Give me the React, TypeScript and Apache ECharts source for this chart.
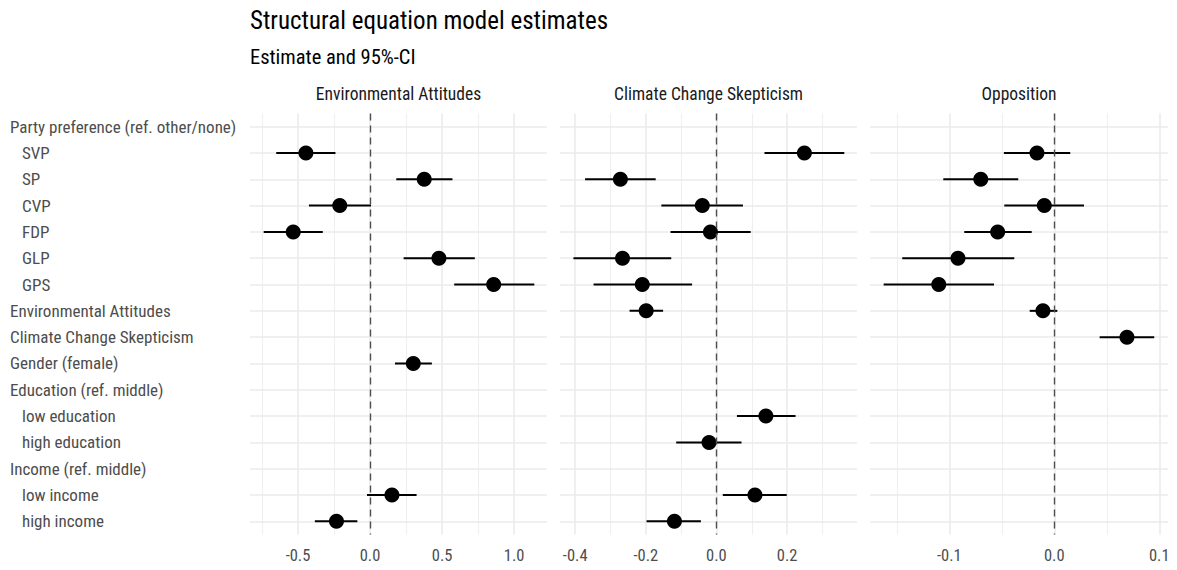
import React, { useEffect, useRef } from "react";
import * as echarts from "echarts";

const categories = [
  "Party preference (ref. other/none)",
  "SVP",
  "SP",
  "CVP",
  "FDP",
  "GLP",
  "GPS",
  "Environmental Attitudes",
  "Climate Change Skepticism",
  "Gender (female)",
  "Education (ref. middle)",
  "low education",
  "high education",
  "Income (ref. middle)",
  "low income",
  "high income",
];
const indentedRows = [1, 2, 3, 4, 5, 6, 11, 12, 14, 15];

const panelTitles = ["Environmental Attitudes", "Climate Change Skepticism", "Opposition"];

// Environmental Attitudes
const envEst = [null, -0.445, 0.376, -0.21, -0.533, 0.478, 0.858, null, null, 0.3, null, null, null, null, 0.152, -0.233];
const envLo = [null, -0.651, 0.182, -0.424, -0.738, 0.233, 0.584, null, null, 0.173, null, null, null, null, -0.021, -0.383];
const envHi = [null, -0.24, 0.572, 0.007, -0.328, 0.727, 1.14, null, null, 0.429, null, null, null, null, 0.323, -0.088];

// Climate Change Skepticism
const ccsEst = [null, 0.249, -0.272, -0.04, -0.017, -0.266, -0.21, -0.199, null, null, null, 0.14, -0.021, null, 0.109, -0.119];
const ccsLo = [null, 0.136, -0.372, -0.156, -0.13, -0.405, -0.348, -0.246, null, null, null, 0.058, -0.114, null, 0.018, -0.198];
const ccsHi = [null, 0.362, -0.172, 0.075, 0.097, -0.128, -0.069, -0.151, null, null, null, 0.224, 0.071, null, 0.199, -0.044];

// Opposition
const oppEst = [null, -0.0165, -0.07, -0.0095, -0.0539, -0.0917, -0.11, -0.0108, 0.0692, null, null, null, null, null, null, null];
const oppLo = [null, -0.048, -0.1057, -0.0476, -0.0857, -0.1448, -0.1625, -0.0234, 0.0432, null, null, null, null, null, null, null];
const oppHi = [null, 0.0152, -0.0343, 0.0283, -0.0215, -0.0381, -0.0574, 0.0029, 0.0952, null, null, null, null, null, null, null];

const panelData = [
  { est: envEst, lo: envLo, hi: envHi },
  { est: ccsEst, lo: ccsLo, hi: ccsHi },
  { est: oppEst, lo: oppLo, hi: oppHi },
];

const xMin = [-0.833, -0.443, -0.1755];
const xMax = [1.228, 0.398, 0.1083];
const xSplit = [5, 4, 3];

const FONT = "'Roboto Condensed', 'Liberation Sans Narrow', 'DejaVu Sans Condensed', Roboto, sans-serif";
const GRID_LEFT = [250, 560, 870];
const GRID_WIDTH = [297, 297, 298];
const GRID_TOP = 113.5;
const GRID_HEIGHT = 421;

export default function App() {
  const ref = useRef<HTMLDivElement>(null);
  useEffect(() => {
    if (!ref.current) return;
    const chart = echarts.init(ref.current, undefined, { renderer: "svg" });

    const grids = GRID_LEFT.map((l, i) => ({
      left: l,
      width: GRID_WIDTH[i],
      top: GRID_TOP,
      height: GRID_HEIGHT,
      containLabel: false,
    }));

    const xAxes = GRID_LEFT.map((_, i) => ({
      type: "value",
      gridIndex: i,
      min: xMin[i],
      max: xMax[i],
      splitNumber: xSplit[i],
      axisLine: { show: false },
      axisTick: { show: false },
      minorTick: { show: false, splitNumber: 2 },
      splitLine: {
        show: true,
        showMinLine: false,
        showMaxLine: false,
        lineStyle: { color: "#ebebeb", width: 1.6 },
      },
      minorSplitLine: { show: true, lineStyle: { color: "#ebebeb", width: 0.8 } },
      axisLabel: {
        showMinLabel: false,
        showMaxLabel: false,
        color: "#4d4d4d",
        fontSize: 16.5,
        fontFamily: FONT,
        margin: 12,
        formatter: (v: number) => (Math.abs(v) < 1e-9 ? "0.0" : v.toFixed(1)),
      },
    }));

    const yAxes = GRID_LEFT.map((_, i) => ({
      type: "category",
      gridIndex: i,
      data: categories,
      inverse: true,
      axisLine: { show: false },
      axisTick: { show: false },
      splitLine: { show: true, alignWithLabel: true, lineStyle: { color: "#ebebeb", width: 1.6 } },
      axisLabel: {
        show: i === 0,
        align: "left",
        margin: 240,
        color: "#4d4d4d",
        fontSize: 17,
        fontFamily: FONT,
        formatter: (v: string, idx: number) =>
          indentedRows.indexOf(idx) >= 0 ? `{b|${v}}` : `{a|${v}}`,
        rich: {
          a: { color: "#4d4d4d", fontSize: 17, fontFamily: FONT },
          b: { color: "#4d4d4d", fontSize: 17, fontFamily: FONT, padding: [0, 0, 0, 12] },
        },
      },
    }));

    const series: any[] = [];
    panelData.forEach((p, i) => {
      const bars: any[] = [];
      const pts: any[] = [];
      p.est.forEach((e, idx) => {
        if (e === null) return;
        bars.push([p.lo[idx], idx, p.hi[idx]]);
        pts.push([e, idx]);
      });
      series.push({
        type: "custom",
        xAxisIndex: i,
        yAxisIndex: i,
        data: bars,
        encode: { x: 0, y: 1 },
        z: 2,
        renderItem: (_params: any, api: any) => {
          const a = api.coord([api.value(0), api.value(1)]);
          const b = api.coord([api.value(2), api.value(1)]);
          return {
            type: "line",
            shape: { x1: a[0], y1: a[1], x2: b[0], y2: b[1] },
            style: { stroke: "#000", lineWidth: 2 },
          };
        },
      });
      series.push({
        type: "scatter",
        xAxisIndex: i,
        yAxisIndex: i,
        data: pts,
        symbol: "circle",
        symbolSize: 15,
        z: 3,
        itemStyle: { color: "#000", opacity: 1 },
      });
      series.push({
        type: "line",
        xAxisIndex: i,
        yAxisIndex: i,
        data: [],
        z: 1,
        markLine: {
          silent: true,
          symbol: "none",
          label: { show: false },
          lineStyle: { color: "#4f4f4f", width: 1.4, type: [7, 5] },
          data: [{ xAxis: 0 }],
        },
      });
    });

    const titles: any[] = [
      {
        text: "Structural equation model estimates",
        left: 250,
        top: 7.5,
        padding: 0,
        textStyle: { fontFamily: FONT, fontSize: 25, fontWeight: "normal", color: "#000" },
      },
      {
        text: "Estimate and 95%-CI",
        left: 250,
        top: 46,
        padding: 0,
        textStyle: { fontFamily: FONT, fontSize: 20.5, fontWeight: "normal", color: "#000" },
      },
    ];
    panelTitles.forEach((t, i) => {
      titles.push({
        text: t,
        left: GRID_LEFT[i] + GRID_WIDTH[i] / 2,
        top: 84.5,
        padding: 0,
        textAlign: "center",
        textStyle: { fontFamily: FONT, fontSize: 17.5, fontWeight: "normal", color: "#1a1a1a" },
      });
    });

    chart.setOption({
      animation: false,
      backgroundColor: "#fff",
      title: titles,
      grid: grids,
      xAxis: xAxes,
      yAxis: yAxes,
      series,
    });
    return () => chart.dispose();
  }, []);

  return (
    <div
      ref={ref}
      style={{ position: "absolute", left: 0, top: 0, width: 1177, height: 570 }}
    />
  );
}
